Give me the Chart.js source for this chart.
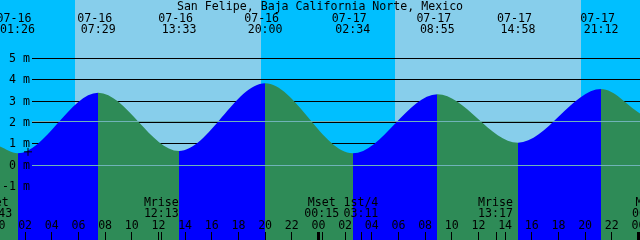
<!DOCTYPE html>
<html>
<head>
<meta charset="utf-8">
<script src="https://cdn.jsdelivr.net/npm/chart.js@4.4.1/dist/chart.umd.min.js"></script>
<style>
  html, body { margin: 0; padding: 0; background: #fff; }
  #tide { display: block; }
</style>
</head>
<body>
<canvas id="tide" width="640" height="240"></canvas>
<script>
// tide graph, San Felipe, 07-16 .. 07-17
const stationName = 'San Felipe, Baja California Norte, Mexico';

// high / low waters
const tideDates   = ['07-16', '07-16', '07-16', '07-16', '07-17', '07-17', '07-17', '07-17'];
const tideTimes   = ['01:26', '07:29', '13:33', '20:00', '02:34', '08:55', '14:58', '21:12'];
const tideHeights = [0.53, 3.38, 0.64, 3.82, 0.53, 3.31, 1.03, 3.55];

// water level at the left and right edge of the graph
const edgeDates   = ['07-16', '07-18'];
const edgeTimes   = ['00:07', '00:07'];
const edgeHeights = [0.85, 2.40];

// sun
const sunDates     = ['07-16', '07-17'];
const sunriseTimes = ['05:45', '05:45'];
const sunsetTimes  = ['19:42', '19:42'];

// moon
const moonDates  = ['07-15', '07-16', '07-17', '07-17', '07-17', '07-18'];
const moonEvents = ['Mset', 'Mrise', 'Mset', '1st/4', 'Mrise', 'Mset'];
const moonTimes  = ['23:43', '12:13', '00:15', '03:11', '13:17', '00:50'];

// hour labels, one every two hours from 07-16 00:00
const hourLabels = ['00', '02', '04', '06', '08', '10', '12', '14', '16', '18', '20', '22',
                    '00', '02', '04', '06', '08', '10', '12', '14', '16', '18', '20', '22', '00'];

// depth axis
const depthTicks = [5, 4, 3, 2, 1, 0, -1];
const referenceLevels = [0, 2.07];
const depthMin = -3.54;
const depthMax = 7.73;

// the + mark
const markDate = '07-16';
const markTime = '02:13';
const markHeight = 0.6;

const NIGHT = '#00bfff';
const DAY = '#87ceeb';
const RISING = '#0000ff';
const FALLING = '#2e8b57';
const REF_LINE = '#6fb3b8';
const FONT = '11.6px "DejaVu Sans Mono"';
const LINE_LEFT = 32;

function toHours(date, time) {
  const day = Number(date.slice(3)) - 16;
  const [h, m] = time.split(':').map(Number);
  return day * 24 + h + m / 60;
}

const tideData = [{x: toHours(edgeDates[0], edgeTimes[0]), y: edgeHeights[0]}];
tideDates.forEach((d, i) => tideData.push({x: toHours(d, tideTimes[i]), y: tideHeights[i]}));
tideData.push({x: toHours(edgeDates[1], edgeTimes[1]), y: edgeHeights[1]});

// blue while the tide rises, green while it falls, switching at each high / low
function waterColour(chart) {
  const {ctx, chartArea: a, scales: {x}} = chart;
  if (!a) return FALLING;
  const g = ctx.createLinearGradient(a.left, 0, a.right, 0);
  let col = tideData[1].y > tideData[0].y ? RISING : FALLING;
  g.addColorStop(0, col);
  for (let i = 1; i < tideData.length - 1; i++) {
    const f = Math.min(1, Math.max(0, (x.getPixelForValue(tideData[i].x) - a.left) / a.width));
    g.addColorStop(f, col);
    col = tideData[i + 1].y > tideData[i].y ? RISING : FALLING;
    g.addColorStop(f, col);
  }
  g.addColorStop(1, col);
  return g;
}

const tidePlot = {
  id: 'tidePlot',
  beforeDatasetsDraw(chart) {
    const {ctx, chartArea: a, scales: {x, y}} = chart;
    ctx.save();
    ctx.fillStyle = NIGHT;
    ctx.fillRect(a.left, a.top, a.width, a.height);
    ctx.fillStyle = DAY;
    sunDates.forEach((d, i) => {
      const x0 = Math.round(x.getPixelForValue(toHours(d, sunriseTimes[i])));
      const x1 = Math.round(x.getPixelForValue(toHours(d, sunsetTimes[i])));
      ctx.fillRect(x0, a.top, x1 - x0, a.height);
    });
    // depth lines - the water covers them below the curve
    ctx.strokeStyle = '#000';
    ctx.lineWidth = 1;
    depthTicks.forEach(v => {
      const py = Math.round(y.getPixelForValue(v)) + 0.5;
      ctx.beginPath();
      ctx.moveTo(LINE_LEFT, py);
      ctx.lineTo(a.right, py);
      ctx.stroke();
    });
    ctx.restore();
  },
  afterDatasetsDraw(chart) {
    const {ctx, chartArea: a, scales: {x, y}} = chart;
    ctx.save();

    // datum and mean level
    ctx.strokeStyle = REF_LINE;
    ctx.lineWidth = 1;
    referenceLevels.forEach(v => {
      const py = Math.round(y.getPixelForValue(v)) + 0.5;
      ctx.beginPath();
      ctx.moveTo(LINE_LEFT, py);
      ctx.lineTo(a.right, py);
      ctx.stroke();
    });

    ctx.font = FONT;
    ctx.fillStyle = '#000';
    ctx.textBaseline = 'alphabetic';

    // depth labels
    ctx.textAlign = 'right';
    depthTicks.forEach(v => {
      ctx.fillText(v + ' m', 30, Math.round(y.getPixelForValue(v)) + 4);
    });

    // title and tide times
    ctx.textAlign = 'center';
    ctx.fillText(stationName, (a.left + a.right) / 2, 10);
    tideDates.forEach((d, i) => {
      const px = x.getPixelForValue(toHours(d, tideTimes[i]));
      ctx.fillText(d + ' ', px, 22);
      ctx.fillText(tideTimes[i], px, 33);
    });

    // moon events
    moonDates.forEach((d, i) => {
      const px = x.getPixelForValue(toHours(d, moonTimes[i]));
      ctx.fillText(moonEvents[i], px, 206);
      ctx.fillText(moonTimes[i], px, 217);
      ctx.fillRect(Math.round(px), 232, 1, 8);
    });

    // hours
    hourLabels.forEach((lab, i) => {
      const px = x.getPixelForValue(i * 2);
      ctx.fillText(lab, px, 229);
      const w = lab === '00' ? 3 : 1;
      ctx.fillRect(Math.round(px - w / 2), 232, w, 8);
    });

    ctx.restore();
  }
};

new Chart(document.getElementById('tide'), {
  type: 'line',
  data: {
    datasets: [
      {
        data: [{x: toHours(markDate, markTime), y: markHeight}],
        showLine: false,
        fill: false,
        pointStyle: 'cross',
        pointRadius: 4,
        pointBorderColor: '#000',
        pointBorderWidth: 1
      },
      {
        data: tideData,
        fill: 'start',
        cubicInterpolationMode: 'monotone',
        borderWidth: 0,
        borderColor: 'transparent',
        pointRadius: 0,
        backgroundColor: c => waterColour(c.chart)
      }
    ]
  },
  options: {
    responsive: false,
    animation: false,
    events: [],
    devicePixelRatio: 1,
    layout: { padding: 0, autoPadding: false },
    scales: {
      x: { type: 'linear', min: toHours(edgeDates[0], edgeTimes[0]), max: toHours(edgeDates[1], edgeTimes[1]), display: false },
      y: { type: 'linear', min: depthMin, max: depthMax, display: false }
    },
    plugins: {
      legend: { display: false },
      tooltip: { enabled: false },
      title: { display: false }
    }
  },
  plugins: [tidePlot]
});
</script>
</body>
</html>
